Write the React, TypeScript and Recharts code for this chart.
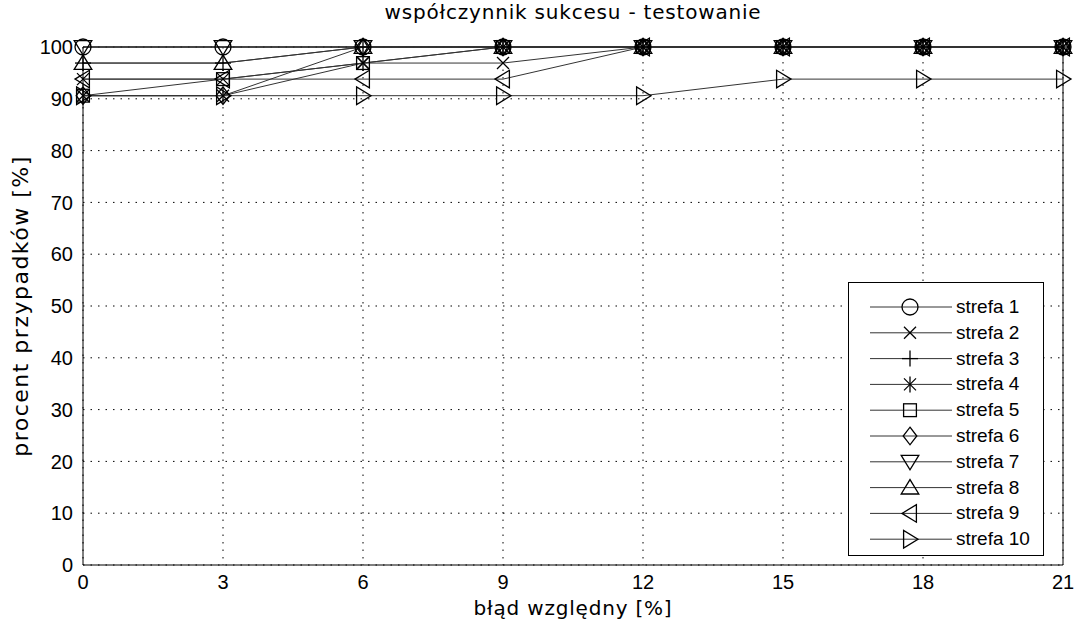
import { LineChart, Line, XAxis, YAxis, CartesianGrid, ReferenceLine, Label } from "recharts";

const bledy = [0, 3, 6, 9, 12, 15, 18, 21];

const strefa1 = [100, 100, 100, 100, 100, 100, 100, 100];
const strefa2 = [93.8, 93.8, 96.9, 96.9, 100, 100, 100, 100];
const strefa3 = [96.9, 96.9, 100, 100, 100, 100, 100, 100];
const strefa4 = [90.6, 90.6, 96.9, 100, 100, 100, 100, 100];
const strefa5 = [90.6, 93.8, 96.9, 100, 100, 100, 100, 100];
const strefa6 = [90.6, 90.6, 100, 100, 100, 100, 100, 100];
const strefa7 = [100, 100, 100, 100, 100, 100, 100, 100];
const strefa8 = [96.9, 96.9, 100, 100, 100, 100, 100, 100];
const strefa9 = [93.8, 93.8, 93.8, 93.8, 100, 100, 100, 100];
const strefa10 = [90.6, 90.6, 90.6, 90.6, 90.6, 93.8, 93.8, 93.8];

const seriesNames = ["strefa 1", "strefa 2", "strefa 3", "strefa 4", "strefa 5", "strefa 6", "strefa 7", "strefa 8", "strefa 9", "strefa 10"];
const seriesValues = [strefa1, strefa2, strefa3, strefa4, strefa5, strefa6, strefa7, strefa8, strefa9, strefa10];
const markers = ["circle", "x", "plus", "star", "square", "diamond", "down", "up", "left", "right"];

const xTicks = [0, 3, 6, 9, 12, 15, 18, 21];
const yTicks = [0, 10, 20, 30, 40, 50, 60, 70, 80, 90, 100];

const data = bledy.map((b, i) => {
  const row: Record<string, number> = { blad: b };
  seriesNames.forEach((n, k) => (row[n] = seriesValues[k][i]));
  return row;
});

const tickFont = { fontFamily: "Liberation Sans, Arial, sans-serif", fontSize: 20, fill: "#000" };
const labelFont = "DejaVu Sans, sans-serif";

function Marker({ shape, x, y, s = 8 }: { shape: string; x: number; y: number; s?: number }) {
  const st = { fill: "none", stroke: "#000", strokeWidth: 1.3 };
  const d = s * 0.75;
  switch (shape) {
    case "circle":
      return <circle cx={x} cy={y} r={s} {...st} />;
    case "x":
      return (
        <g {...st}>
          <line x1={x - d} y1={y - d} x2={x + d} y2={y + d} />
          <line x1={x - d} y1={y + d} x2={x + d} y2={y - d} />
        </g>
      );
    case "plus":
      return (
        <g {...st}>
          <line x1={x} y1={y - s} x2={x} y2={y + s} />
          <line x1={x - s} y1={y} x2={x + s} y2={y} />
        </g>
      );
    case "star":
      return (
        <g {...st}>
          <line x1={x} y1={y - s} x2={x} y2={y + s} />
          <line x1={x - d} y1={y - d} x2={x + d} y2={y + d} />
          <line x1={x - d} y1={y + d} x2={x + d} y2={y - d} />
        </g>
      );
    case "square":
      return <rect x={x - s * 0.8} y={y - s * 0.8} width={s * 1.6} height={s * 1.6} {...st} />;
    case "diamond":
      return <polygon points={`${x},${y - s * 1.1} ${x + s * 0.85},${y} ${x},${y + s * 1.1} ${x - s * 0.85},${y}`} {...st} />;
    case "down":
      return <polygon points={`${x - s * 1.1},${y - s * 0.8} ${x + s * 1.1},${y - s * 0.8} ${x},${y + s}`} {...st} />;
    case "up":
      return <polygon points={`${x - s * 1.1},${y + s * 0.8} ${x + s * 1.1},${y + s * 0.8} ${x},${y - s}`} {...st} />;
    case "left":
      return <polygon points={`${x + s * 0.8},${y - s * 1.1} ${x + s * 0.8},${y + s * 1.1} ${x - s},${y}`} {...st} />;
    case "right":
      return <polygon points={`${x - s * 0.8},${y - s * 1.1} ${x - s * 0.8},${y + s * 1.1} ${x + s},${y}`} {...st} />;
    default:
      return null;
  }
}

function LegendBox() {
  const rowH = 25.8;
  return (
    <svg width={196} height={274} style={{ position: "absolute", left: 848, top: 282 }}>
      <rect x={0.5} y={0.5} width={195} height={273} fill="#fff" stroke="#000" />
      {seriesNames.map((n, i) => {
        const y = 25 + i * rowH;
        return (
          <g key={n}>
            <line x1={22} y1={y} x2={104} y2={y} stroke="#333" />
            <Marker shape={markers[i]} x={62} y={y} s={8} />
            <text x={108} y={y + 6} fontFamily="Liberation Sans, Arial, sans-serif" fontSize={19} fill="#000">
              {n}
            </text>
          </g>
        );
      })}
    </svg>
  );
}

export default function App() {
  return (
    <div style={{ position: "absolute", left: 0, top: 0, width: 1074, height: 623, background: "#fff" }}>
      <div
        style={{
          position: "absolute",
          left: 83,
          width: 980,
          top: 0,
          textAlign: "center",
          fontFamily: labelFont,
          fontSize: 20,
          letterSpacing: 0.8,
        }}
      >
        współczynnik sukcesu - testowanie
      </div>
      <LineChart width={1074} height={623} data={data} margin={{ top: 47, right: 11, left: 0, bottom: 0 }}>
        <CartesianGrid stroke="#000" strokeDasharray="1.5 6" strokeWidth={1} />
        <XAxis
          dataKey="blad"
          type="number"
          domain={[0, 21]}
          ticks={xTicks}
          height={58}
          stroke="#000"
          tickLine={false}
          tickMargin={4}
          tick={tickFont}
        >
          <Label
            value="błąd względny [%]"
            position="insideBottom"
            offset={8}
            style={{ fontFamily: labelFont, fontSize: 20, letterSpacing: 0.8, fill: "#000" }}
          />
        </XAxis>
        <YAxis
          type="number"
          domain={[0, 100]}
          ticks={yTicks}
          width={83}
          stroke="#000"
          tickLine={false}
          tickMargin={4}
          tick={tickFont}
        >
          <Label
            value="procent przypadków [%]"
            angle={-90}
            position="insideLeft"
            offset={20}
            style={{ fontFamily: labelFont, fontSize: 22, letterSpacing: 1.5, fill: "#000", textAnchor: "middle" }}
          />
        </YAxis>
        <ReferenceLine y={100} stroke="#000" />
        <ReferenceLine x={21} stroke="#000" />
        {seriesNames.map((n, k) => (
          <Line
            key={n}
            dataKey={n}
            stroke="#333"
            strokeWidth={1}
            isAnimationActive={false}
            activeDot={false}
            dot={(p: any) => <Marker key={`${n}-${p.index}`} shape={markers[k]} x={p.cx} y={p.cy} />}
          />
        ))}
      </LineChart>
      <LegendBox />
    </div>
  );
}
